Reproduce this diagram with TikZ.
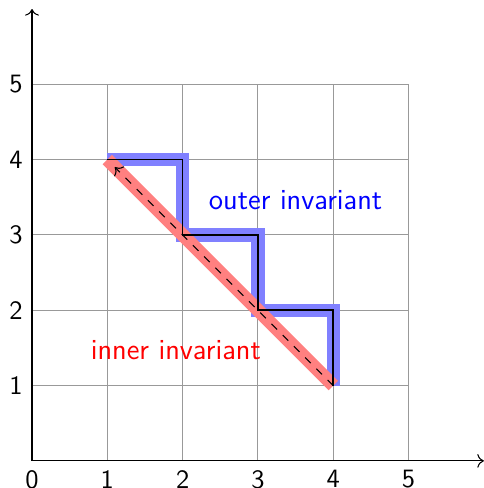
\documentclass[tikz,border=0pt]{standalone}
\usepackage{tikz}
\usetikzlibrary{arrows.meta,calc,positioning}
\renewcommand{\familydefault}{\sfdefault}
\tikzset{
  rejilla/.style={gray!80,thin},
  ejes/.style={->,thin},
  exterior/.style={draw=blue!50,line width=5pt},
  interior/.style={draw=red!50,line width=5pt},
  escalera/.style={draw=black,semithick},
  diag/.style={->,dashed,thin,shorten >=4pt},
  etiq/.style={font=\fontsize{11}{13}\selectfont}
}

\begin{document}
\begin{tikzpicture}[scale=1.0]
\useasboundingbox (-0.425,-0.36) rectangle (6.0,6.12);
% rejilla y ejes
\draw[rejilla] (0,0) grid (5,5);
\draw[ejes] (0,0) -- (6,0);
\draw[ejes] (0,0) -- (0,6);
\foreach \i in {0,...,5} \node[below] (x\i) at (\i,0) {\i};
\foreach \i in {1,...,5} \node[left] (y\i) at (0,\i) {\i};
% vertices de la escalera
\coordinate (p0) at (1,4); \coordinate (p1) at (2,4);
\coordinate (p2) at (2,3); \coordinate (p3) at (3,3);
\coordinate (p4) at (3,2); \coordinate (p5) at (4,2);
\coordinate (p6) at (4,1);
% invariantes
\draw[exterior] (p0) -- (p1) -- (p2) -- (p3) -- (p4) -- (p5) -- (p6);
\draw[interior] (p0) -- (p6);
\draw[escalera] (p0) -- (p1) -- (p2) -- (p3) -- (p4) -- (p5) -- (p6);
\draw[diag] (p6) -- (p0);
\node[etiq,text=blue] (ext) at (3.5,3.46) {outer invariant};
\node[etiq,text=red] (int) at (1.91,1.47) {inner invariant};
\end{tikzpicture}
\end{document}
